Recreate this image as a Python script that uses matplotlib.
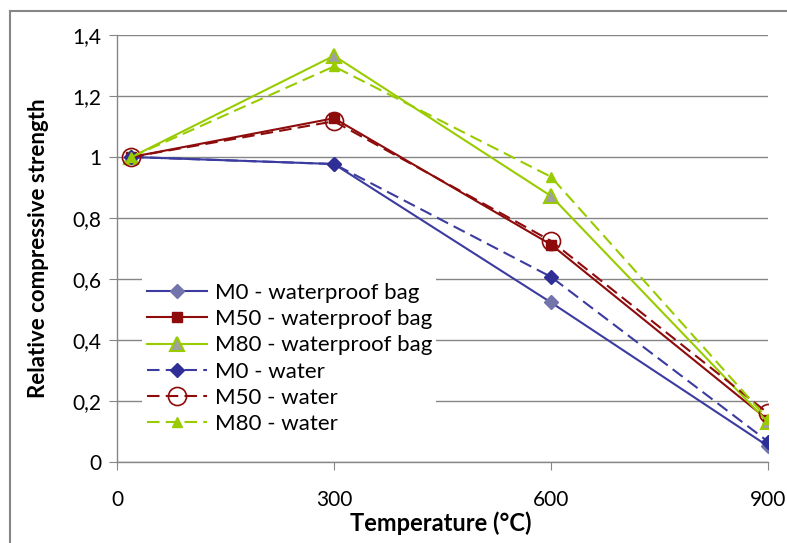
import numpy as np
import matplotlib
matplotlib.use("Agg")
import matplotlib.pyplot as plt
from matplotlib.lines import Line2D

plt.rcParams['font.family'] = ['Lato', 'DejaVu Sans']

temps = [20, 300, 600, 900]
m0_bag = [1.0, 0.977, 0.523, 0.052]
m50_bag = [1.0, 1.127, 0.713, 0.138]
m80_bag = [1.0, 1.332, 0.872, 0.130]
m0_water = [1.0, 0.977, 0.607, 0.067]
m50_water = [1.0, 1.117, 0.725, 0.160]
m80_water = [1.0, 1.297, 0.935, 0.140]

labels = ["M0 - waterproof bag", "M50 - waterproof bag", "M80 - waterproof bag",
          "M0 - water", "M50 - water", "M80 - water"]
xticks = [0, 300, 600, 900]
yticks = [0, 0.2, 0.4, 0.6, 0.8, 1.0, 1.2, 1.4]
ytick_labels = ["0", "0,2", "0,4", "0,6", "0,8", "1", "1,2", "1,4"]

blue = "#3B3BA0"
red = "#8E0B0B"
green = "#99CC00"
dash = (0, (6, 3))

fig = plt.figure(figsize=(7.87, 5.43), dpi=100)
ax = fig.add_axes([117/787, 81/543, 651/787, 427/543])

ax.plot(temps, m0_bag, color=blue, lw=1.5, marker="D", ms=7,
        mfc="#7474AC", mec="#7474AC", label=labels[0])
ax.plot(temps, m50_bag, color=red, lw=1.5, marker="s", ms=7,
        mfc=red, mec=red, label=labels[1])
ax.plot(temps, m80_bag, color=green, lw=1.5, marker="^", ms=10,
        mfc="#A0A0A0", mec=green, mew=1.5, label=labels[2])
ax.plot(temps, m0_water, color=blue, lw=1.5, ls=dash, marker="D", ms=7,
        mfc="#2E2E96", mec="#2E2E96", label=labels[3])
ax.plot(temps, m50_water, color=red, lw=1.5, ls=dash, marker="o", ms=13,
        mfc="none", mec=red, mew=1.2, label=labels[4])
ax.plot(temps, m80_water, color=green, lw=1.5, ls=dash, marker="^", ms=7,
        mfc=green, mec=green, label=labels[5])

ax.set_xlim(0, 900)
ax.set_ylim(0, 1.4)
ax.set_xticks(xticks)
ax.set_yticks(yticks)
ax.set_yticklabels(ytick_labels)
ax.tick_params(axis="both", labelsize=15, color="#868686", length=6, pad=5)
ax.tick_params(axis="x", pad=14)
ax.grid(axis="y", color="#868686", lw=1)
ax.set_axisbelow(True)
for s in ["top", "right"]:
    ax.spines[s].set_visible(False)
for s in ["left", "bottom"]:
    ax.spines[s].set_color("#868686")
    ax.spines[s].set_linewidth(1)

ax.set_ylabel("Relative compressive strength", fontsize=16, fontweight="bold")
ax.yaxis.set_label_coords(-0.105, 0.5)
ax.set_xlabel("Temperature (°C)", fontsize=17, fontweight="bold")
ax.xaxis.set_label_coords(0.498, -0.115)

leg = ax.legend(loc="upper left", bbox_to_anchor=(0.022, 0.456), fontsize=16,
                frameon=True, framealpha=1, edgecolor="none", fancybox=False,
                handlelength=2.7, labelspacing=0.28, borderpad=0.2,
                handletextpad=0.35)

# chart-area border (top and left only visible)
fig.add_artist(Line2D([10/787, 10/787], [0, 532/543], transform=fig.transFigure,
                      color="#868686", lw=1.5))
fig.add_artist(Line2D([10/787, 1], [532/543, 532/543], transform=fig.transFigure,
                      color="#868686", lw=1.5))

fig.savefig("out.png", dpi=100)
